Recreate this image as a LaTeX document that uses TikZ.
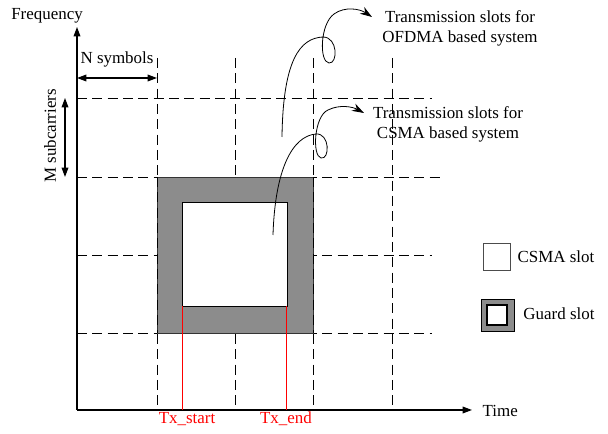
\documentclass[tikz,border=0pt]{standalone}
\usepackage{fontspec}
\setmainfont{Liberation Serif}
\usetikzlibrary{arrows.meta}
\definecolor{guardgray}{RGB}{140,140,140}
\tikzset{
  gridline/.style={dash pattern=on 7.5pt off 4pt, line width=0.65pt},
  axisline/.style={line width=0.9pt, -{Triangle[length=7pt,width=5pt]}},
  span/.style={line width=0.9pt, {Triangle[length=7pt,width=5pt]}-{Triangle[length=7pt,width=5pt]}},
  pointer/.style={line width=0.6pt, -{Stealth[length=9pt,width=6pt]}},
  txline/.style={red, line width=0.7pt},
}
\begin{document}
\begin{tikzpicture}[x=0.75pt, y=-0.75pt, font=\fontsize{12.7}{15}\selectfont]
  \useasboundingbox (0,0) rectangle (608,434);

  % grid of slots
  \foreach \gx in {157,235,313,392}
    \draw[gridline] (\gx,58) -- (\gx,410);
  \draw[gridline] (77,98) -- (432,98);
  \draw[gridline] (77,177) -- (440,177);
  \draw[gridline] (77,255) -- (432,255);
  \draw[gridline] (77,333) -- (432,333);

  % guard slot around the CSMA slot
  \filldraw[fill=guardgray, draw=black!80, line width=0.6pt] (157,177) rectangle (313,333);
  \filldraw[fill=white, draw=black, line width=0.7pt] (182,202) rectangle (287,306);
  \draw[gridline] (157,177) -- (157,333);
  \draw[gridline] (313,177) -- (313,333);

  % axes
  \coordinate (O) at (77,410);
  \coordinate (ftip) at (77,27);
  \coordinate (ttip) at (472,410);
  \draw[axisline] (O) -- (ftip);
  \draw[axisline] (O) -- (ttip);
  \node (freq) at (47,16) {Frequency};
  \node[anchor=west] (time) at (478,411) {Time};

  % slot size
  \coordinate (nl) at (77,78);
  \coordinate (nr) at (157,78);
  \draw[span] (nl) -- (nr);
  \node (nsym) at (117,59) {N symbols};
  \coordinate (mt) at (65,98);
  \coordinate (mb) at (65,177);
  \draw[span] (mt) -- (mb);
  \node[rotate=90] (msub) at (50,136) {M subcarriers};

  % transmission start and end
  \node[red] (txs) at (187,419) {Tx\_start};
  \node[red] (txe) at (286,419) {Tx\_end};
  \coordinate (ts) at (182.5,306);
  \coordinate (te) at (286.5,306);
  \draw[txline] (ts) -- (ts |- O);
  \draw[txline] (te) -- (te |- O);

  % pointers to the labels
  \node[align=center] (ofdma) at (460,28) {Transmission slots for\\OFDMA based system};
  \node[align=center] (csma) at (448,124) {Transmission slots for\\CSMA based system};
  \coordinate (ofs) at (282,137);
  \coordinate (ofe) at (372,17);
  \coordinate (css) at (273,235);
  \coordinate (cse) at (364,113);
  \draw[pointer] (ofs) .. controls (283,60) and (300,38) .. (323,37)
    .. controls (338,37) and (338,64) .. (329,63)
    .. controls (319,62) and (320,24) .. (334,14)
    .. controls (345,6) and (360,9) .. (ofe);
  \draw[pointer] (css) .. controls (275,170) and (292,136) .. (316,134)
    .. controls (330,133) and (330,160) .. (321,158)
    .. controls (312,156) and (314,116) .. (328,110)
    .. controls (340,104) and (353,107) .. (cse);

  % legend
  \draw[line width=0.6pt, draw=black!70] (483,243) rectangle (510,270);
  \node (lcsma) at (556,257) {CSMA slot};
  \filldraw[fill=guardgray, draw=black, line width=0.6pt] (481,299) rectangle (514,331);
  \filldraw[fill=white, draw=black, line width=0.8pt] (487,305) rectangle (507,325);
  \node (lguard) at (559,314) {Guard slot};
\end{tikzpicture}
\end{document}
